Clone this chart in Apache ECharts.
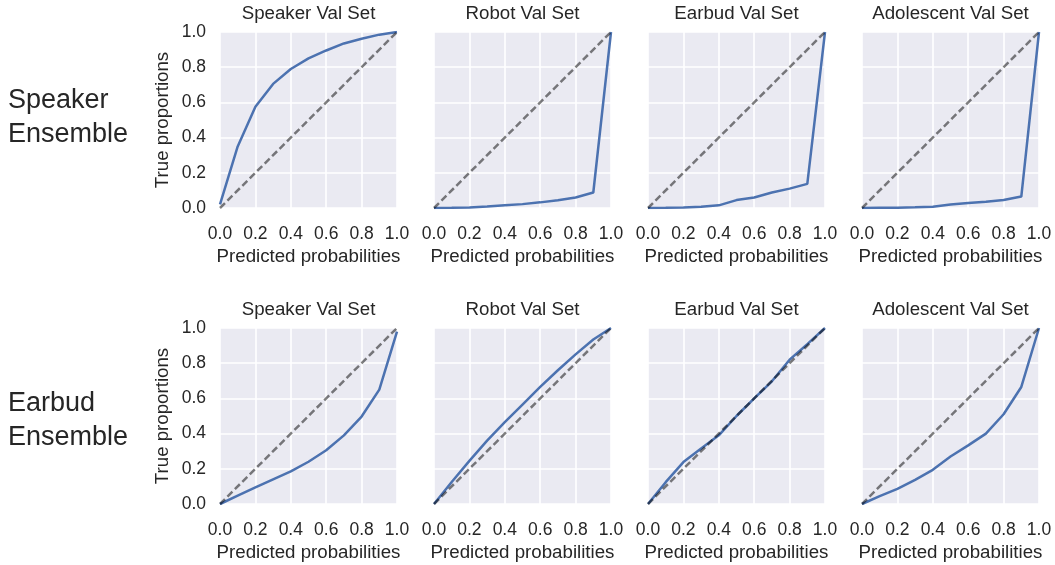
<!DOCTYPE html>
<html>
<head>
<meta charset="utf-8">
<script src="https://cdn.jsdelivr.net/npm/echarts@6/dist/echarts.min.js"></script>
<style>
  html, body { margin: 0; padding: 0; background: #fff; }
  #chart { width: 1055px; height: 565px; }
</style>
</head>
<body>
<div id="chart"></div>
<script>
// calibration curves, x = predicted probability bins
const probBins = [0, 0.1, 0.2, 0.3, 0.4, 0.5, 0.6, 0.7, 0.8, 0.9, 1.0];
const perfectLine = [[0, 0], [1, 1]];

const colTitles = ['Speaker Val Set', 'Robot Val Set', 'Earbud Val Set', 'Adolescent Val Set'];
const rowLabels = ['Speaker\nEnsemble', 'Earbud\nEnsemble'];

// Speaker Ensemble
const speakerEnsSpeaker = [0.02, 0.35, 0.575, 0.705, 0.79, 0.85, 0.895, 0.935, 0.962, 0.985, 1.0];
const speakerEnsRobot = [0, 0.001, 0.003, 0.008, 0.015, 0.022, 0.032, 0.044, 0.06, 0.088, 1.0];
const speakerEnsEarbud = [0, 0.001, 0.003, 0.007, 0.015, 0.045, 0.06, 0.088, 0.11, 0.137, 1.0];
const speakerEnsAdolescent = [0, 0.001, 0.002, 0.004, 0.007, 0.02, 0.028, 0.036, 0.045, 0.065, 1.0];

// Earbud Ensemble
const earbudEnsSpeaker = [0, 0.048, 0.095, 0.14, 0.185, 0.24, 0.305, 0.39, 0.497, 0.65, 0.98];
const earbudEnsRobot = [0, 0.125, 0.245, 0.36, 0.465, 0.565, 0.665, 0.76, 0.85, 0.935, 1.0];
const earbudEnsEarbud = [0, 0.124, 0.238, 0.315, 0.39, 0.5, 0.6, 0.697, 0.82, 0.908, 1.0];
const earbudEnsAdolescent = [0, 0.045, 0.086, 0.137, 0.194, 0.27, 0.333, 0.40, 0.51, 0.665, 1.0];

const curves = [
  [speakerEnsSpeaker, speakerEnsRobot, speakerEnsEarbud, speakerEnsAdolescent],
  [earbudEnsSpeaker, earbudEnsRobot, earbudEnsEarbud, earbudEnsAdolescent]
];

const FONT = "'Liberation Sans', Arial, sans-serif";
const TEXT = '#262626';
const gridLefts = [220, 434, 648, 862];
const gridTops = [32, 328];
const rowLabelY = [117.5, 421];
const W = 177, H = 176;

const grids = [], xAxes = [], yAxes = [], series = [], graphics = [];

curves.forEach((row, r) => {
  row.forEach((ys, c) => {
    const i = r * 4 + c;
    grids.push({
      left: gridLefts[c], top: gridTops[r], width: W, height: H,
      show: true, backgroundColor: '#EAEAF2', borderWidth: 0
    });
    xAxes.push({
      gridIndex: i, type: 'value', min: 0, max: 1, interval: 0.2,
      axisLine: { show: false }, axisTick: { show: false },
      splitLine: { lineStyle: { color: '#fff', width: 1.6 } },
      axisLabel: {
        formatter: v => v.toFixed(1), fontSize: 17.5, color: TEXT,
        fontFamily: FONT, margin: 17, showMinLabel: true, showMaxLabel: true
      },
      name: 'Predicted probabilities', nameLocation: 'middle', nameGap: 39,
      nameTextStyle: { fontSize: 18.7, color: TEXT, fontFamily: FONT }
    });
    yAxes.push({
      gridIndex: i, type: 'value', min: 0, max: 1, interval: 0.2,
      axisLine: { show: false }, axisTick: { show: false },
      splitLine: { lineStyle: { color: '#fff', width: 1.6 } },
      axisLabel: {
        show: c === 0, formatter: v => v.toFixed(1), fontSize: 17.5,
        color: TEXT, fontFamily: FONT, margin: 14
      },
      name: c === 0 ? 'True proportions' : '', nameLocation: 'middle', nameGap: 48,
      nameTextStyle: { fontSize: 18.7, color: TEXT, fontFamily: FONT }
    });
    series.push({
      type: 'line', xAxisIndex: i, yAxisIndex: i,
      data: probBins.map((x, k) => [x, ys[k]]),
      showSymbol: false, silent: true,
      lineStyle: { color: '#4C72B0', width: 2.5 }
    });
    series.push({
      type: 'line', xAxisIndex: i, yAxisIndex: i,
      data: perfectLine, showSymbol: false, silent: true,
      lineStyle: { color: 'rgba(0,0,0,0.5)', width: 2.5, type: [7, 3.5] }
    });
    graphics.push({
      type: 'text', x: gridLefts[c] + W / 2, y: gridTops[r] - 18,
      style: {
        text: colTitles[c], fill: TEXT, font: '18.7px ' + FONT,
        textAlign: 'center', textVerticalAlign: 'middle'
      }
    });
  });
  graphics.push({
    type: 'text', x: 8, y: rowLabelY[r],
    style: {
      text: rowLabels[r], fill: TEXT, font: '27px ' + FONT,
      lineHeight: 34, textAlign: 'left', textVerticalAlign: 'middle'
    }
  });
});

const chart = echarts.init(document.getElementById('chart'));
chart.setOption({
  animation: false,
  backgroundColor: '#fff',
  grid: grids,
  xAxis: xAxes,
  yAxis: yAxes,
  series: series,
  graphic: graphics
});
</script>
</body>
</html>
